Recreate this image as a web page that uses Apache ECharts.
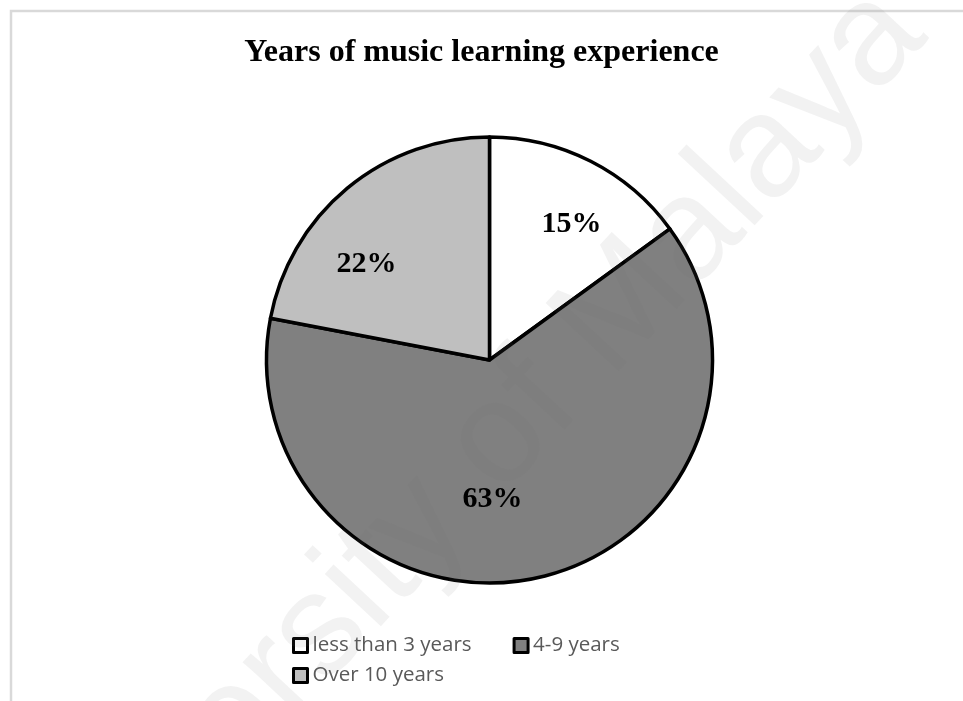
<!DOCTYPE html>
<html>
<head>
<meta charset="utf-8">
<script src="https://cdn.jsdelivr.net/npm/echarts@6/dist/echarts.min.js"></script>
<style>
html,body{margin:0;padding:0;background:#fff;}
#chart{width:963px;height:701px;}
</style>
</head>
<body>
<div id="chart"></div>
<script>
// Data
const categories = ['less than 3 years', '4-9 years', 'Over 10 years'];
const values = [15, 63, 22];
const titleText = 'Years of music learning experience';
const watermarkText = 'University of Malaya';

// Styles
const colors = ['#ffffff', '#808080', '#bfbfbf'];
const labelOffsets = [[30, -34], [-22, 28], [-50, -8]];

const chart = echarts.init(document.getElementById('chart'), null, {renderer: 'canvas'});

const legendCommon = {
  orient: 'horizontal',
  icon: 'rect',
  itemWidth: 14,
  itemHeight: 14,
  itemGap: 41,
  selectedMode: false,
  itemStyle: {borderColor: '#000', borderWidth: 3},
  textStyle: {fontFamily: '"Open Sans"', fontSize: 20.5, color: '#595959'}
};

const option = {
  backgroundColor: '#ffffff',
  animation: false,
  title: {
    text: titleText,
    left: 'center',
    top: 32,
    textStyle: {fontFamily: '"Liberation Serif"', fontWeight: 'bold', fontSize: 32, color: '#000'}
  },
  legend: [
    Object.assign({}, legendCommon, {data: [categories[0], categories[1]], left: 287, top: 630}),
    Object.assign({}, legendCommon, {data: [categories[2]], left: 287, top: 660})
  ],
  graphic: [
    {
      type: 'rect',
      silent: true,
      z: -10,
      shape: {x: 11, y: 11, width: 1000, height: 1000},
      style: {fill: 'none', stroke: '#d9d9d9', lineWidth: 2.5}
    },
    {
      type: 'text',
      silent: true,
      z: 100,
      x: 455,
      y: 488,
      rotation: 47 * Math.PI / 180,
      style: {
        text: watermarkText,
        fontFamily: '"Liberation Sans"',
        fontSize: 145,
        fill: 'rgba(110,110,110,0.09)',
        align: 'center',
        verticalAlign: 'middle'
      }
    }
  ],
  series: [{
    type: 'pie',
    center: [489.5, 360],
    radius: 223,
    startAngle: 90,
    clockwise: true,
    avoidLabelOverlap: false,
    emphasis: {disabled: true},
    itemStyle: {borderColor: '#000', borderWidth: 3.5},
    label: {
      show: true,
      position: 'inside',
      formatter: '{c}%',
      fontFamily: '"Liberation Serif"',
      fontWeight: 'bold',
      fontSize: 30,
      color: '#000'
    },
    labelLine: {show: false},
    data: categories.map((name, i) => ({
      name: name,
      value: values[i],
      itemStyle: {color: colors[i]},
      label: {offset: labelOffsets[i]}
    }))
  }]
};

chart.setOption(option);
</script>
</body>
</html>
